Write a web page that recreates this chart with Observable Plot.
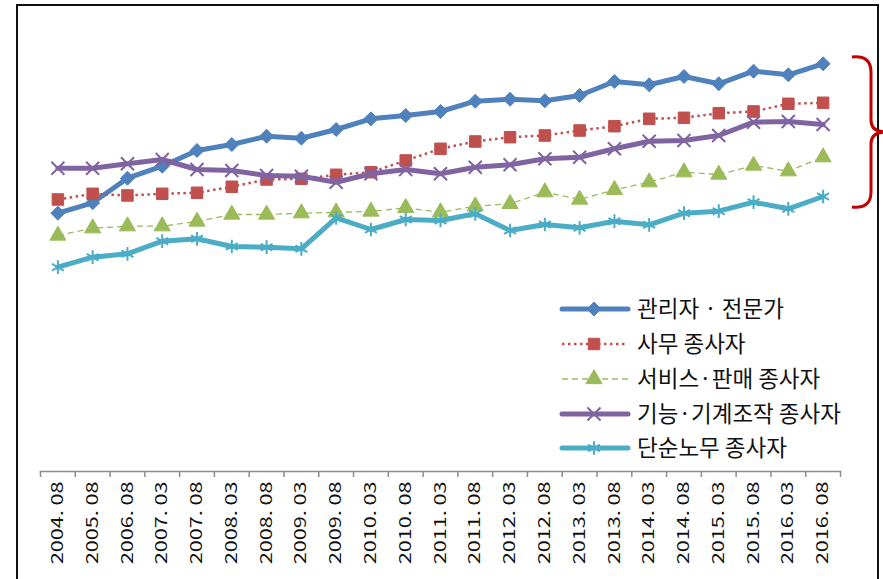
<!DOCTYPE html>
<html>
<head>
<meta charset="utf-8">
<script src="https://cdn.jsdelivr.net/npm/d3@7"></script>
<script src="https://cdn.jsdelivr.net/npm/@observablehq/plot@0.6"></script>
<style>
  html, body { margin: 0; padding: 0; background: #fff; }
  #chart { width: 883px; height: 579px; overflow: hidden; }
  svg { display: block; }
</style>
</head>
<body>
<div id="chart"></div>
<script>
const periods = ["2004. 08","2005. 08","2006. 08","2007. 03","2007. 08","2008. 03","2008. 08","2009. 03","2009. 08","2010. 03","2010. 08","2011. 03","2011. 08","2012. 03","2012. 08","2013. 03","2013. 08","2014. 03","2014. 08","2015. 03","2015. 08","2016. 03","2016. 08"];

const seriesNames = ["관리자 · 전문가", "사무 종사자", "서비스·판매 종사자", "기능·기계조작 종사자", "단순노무 종사자"];

const managers = [258.3,268.7,293.3,305.3,321,327,335.3,333.3,342,352.7,356,360,370.3,372.3,370.7,376,390,386.7,395,387.7,400.3,396.7,407.7];
const clerks   = [272,277.7,276,277.7,278.7,284.7,292,292.7,296.7,299.3,311,322.7,330,334.3,336,341,345.3,352.7,353.7,358.3,360,367.7,368.7];
const service  = [236,243.3,245.3,245.3,250,257,257,258.3,259.3,260,263.7,259.3,265.3,267.7,279.3,272,281.7,289.3,299.3,297,306,300.3,314.3];
const crafts   = [303.3,303.3,307.7,312,302,301,296,295.3,289.3,297.7,302,297.7,304.3,306.7,312.7,314.3,322.7,330.3,331,336,349.3,350,347];
const labor    = [204.3,214.3,217.7,230.3,232.7,225,224.3,222.7,253.7,242,252,251,257.7,241,247,243.7,250.3,246.7,258.3,260.3,269.3,262.7,275];

const styles = [
  {name: seriesNames[0], values: managers, color: "#4f81bd", width: 5, dash: null, symbol: "diamond2", r: 6.3, markFill: true},
  {name: seriesNames[1], values: clerks,   color: "#c0504d", width: 2.5, dash: "2.5,3.5", symbol: "square", r: 6.5, markFill: true},
  {name: seriesNames[2], values: service,  color: "#9bbb59", width: 1.3, dash: "6,4", symbol: "triangle", r: 6, markFill: true},
  {name: seriesNames[3], values: crafts,   color: "#8064a2", width: 5, dash: null, symbol: "times", r: 6, markFill: false},
  {name: seriesNames[4], values: labor,    color: "#4bacc6", width: 5, dash: null, symbol: "asterisk", r: 6.5, markFill: false}
];

const marks = [];
marks.push(Plot.frame({anchor: "bottom", stroke: "#8c8c8c", strokeWidth: 1.5}));
marks.push(Plot.axisX({
  ticks: d3.range(-0.5, periods.length, 1),
  tickFormat: () => "",
  tickSize: 6,
  stroke: "#8c8c8c",
  strokeWidth: 1.5,
  label: null
}));
marks.push(Plot.axisX({
  ticks: d3.range(periods.length),
  tickFormat: i => periods[i],
  tickRotate: -90,
  tickSize: 0,
  tickPadding: 10,
  fontSize: 16,
  fill: "#111",
  label: null
}));

for (const s of styles) {
  const data = s.values.map((v, i) => ({i, v}));
  marks.push(Plot.line(data, {
    x: "i", y: "v", stroke: s.color, strokeWidth: s.width,
    strokeDasharray: s.dash, strokeLinejoin: "round", strokeLinecap: s.dash ? "butt" : "round"
  }));
  if (s.markFill) {
    marks.push(Plot.dot(data, {x: "i", y: "v", symbol: s.symbol, r: s.r, fill: s.color, stroke: s.color, strokeWidth: 1}));
  } else {
    marks.push(Plot.dot(data, {x: "i", y: "v", symbol: s.symbol, r: s.r, fill: "none", stroke: s.color, strokeWidth: 2}));
  }
}

const plot = Plot.plot({
  width: 883,
  height: 579,
  marginLeft: 40,
  marginRight: 43,
  marginTop: 5,
  marginBottom: 108,
  style: {fontFamily: "'Noto Sans CJK KR', 'Noto Sans', sans-serif", fontSize: "16px", background: "#fff", overflow: "hidden"},
  x: {type: "linear", domain: [-0.5, periods.length - 0.5], label: null},
  y: {domain: [0, 466], axis: null},
  marks
});

document.getElementById("chart").appendChild(plot);

const svg = d3.select(plot);
// stretch the tick labels along their reading direction, like the reference
svg.selectAll("g[aria-label='x-axis tick label'] text").each(function() {
  const t = this.getAttribute("transform") || "";
  this.setAttribute("transform", t + " scale(1.35,1)");
});

// outer frame
svg.append("rect")
  .attr("x", 17).attr("y", 5).attr("width", 861).attr("height", 620)
  .attr("fill", "none").attr("stroke", "#111").attr("stroke-width", 2);

// legend
const legendRows = [309, 344, 379, 414, 448];
const symbolMap = {diamond2: d3.symbolDiamond2, square: d3.symbolSquare, triangle: d3.symbolTriangle, times: d3.symbolTimes, asterisk: d3.symbolAsterisk};
const lg = svg.append("g").attr("text-anchor", "start");
styles.forEach((s, k) => {
  const y = legendRows[k];
  lg.append("line")
    .attr("x1", 562).attr("x2", 628).attr("y1", y).attr("y2", y)
    .attr("stroke", s.color).attr("stroke-width", s.width)
    .attr("stroke-dasharray", s.dash).attr("stroke-linecap", s.dash ? "butt" : "round");
  lg.append("path")
    .attr("transform", `translate(594,${y})`)
    .attr("d", d3.symbol(symbolMap[s.symbol], Math.PI * s.r * s.r)())
    .attr("fill", s.markFill ? s.color : "none")
    .attr("stroke", s.color)
    .attr("stroke-width", s.markFill ? 1 : 2);
  lg.append("text")
    .attr("x", 637).attr("y", y).attr("dy", "0.36em")
    .attr("text-anchor", "start")
    .attr("font-size", 22.5).attr("fill", "#111")
    .text(s.name);
});

// red brace
svg.append("path")
  .attr("d", "M852,57 Q871,55 871,72 L871,120 Q871,132 886,132 Q871,132 871,144 L871,192 Q871,209 852,207")
  .attr("fill", "none").attr("stroke", "#c00000").attr("stroke-width", 3);
</script>
</body>
</html>
